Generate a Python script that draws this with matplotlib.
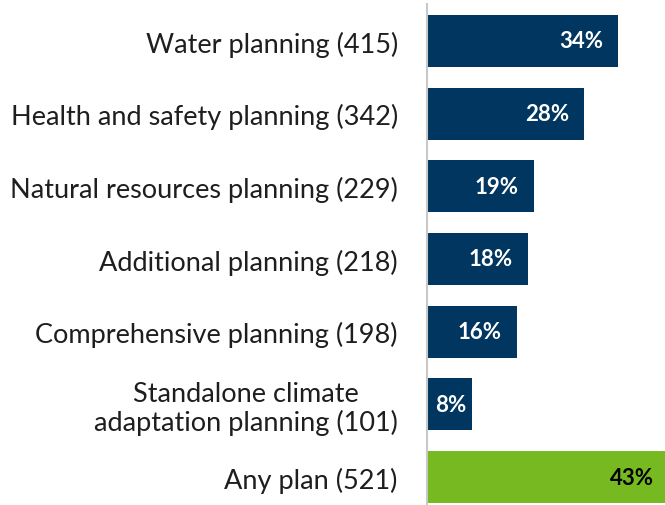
import matplotlib
matplotlib.use("Agg")
import matplotlib.pyplot as plt

categories = [
    "Water planning (415)",
    "Health and safety planning (342)",
    "Natural resources planning (229)",
    "Additional planning (218)",
    "Comprehensive planning (198)",
    "Standalone climate\nadaptation planning (101)",
    "Any plan (521)",
]
percent = [34, 28, 19, 18, 16, 8, 43]

navy = "#00365f"
green = "#76b921"
colors = [navy] * (len(percent) - 1) + [green]
text_colors = ["white"] * (len(percent) - 1) + ["black"]

plt.rcParams["font.family"] = ["Lato", "DejaVu Sans"]

fig = plt.figure(figsize=(6.65, 5.06), dpi=100)
# axes runs from the vertical rule to the right edge, bars can run off it
ax = fig.add_axes([427 / 665, 0, 1 - 427 / 665, 501 / 506])

y = list(range(len(percent)))
ax.barh(y, percent, height=0.715, color=colors)

ax.set_xlim(0, 238 / 5.62)
ax.set_ylim(6 + 28 / 72.67, -37 / 72.67)

for i, v in enumerate(percent):
    pad = 2.7 if v >= 10 else 1.0
    ax.text(v - pad, i, f"{v}%", ha="right", va="center",
            color=text_colors[i], fontsize=16, fontweight="bold")

ax.set_yticks(y)
ax.set_yticklabels(categories, fontsize=19.5, color="#1e1e1e", linespacing=1.12)
for lbl in ax.get_yticklabels():
    lbl.set_multialignment("center")
ax.tick_params(axis="y", length=0, pad=21)
ax.set_xticks([])

for side in ["top", "right", "bottom"]:
    ax.spines[side].set_visible(False)
ax.spines["left"].set_color("#c8c8c8")
ax.spines["left"].set_linewidth(1.5)

fig.savefig("out.png", dpi=100)
